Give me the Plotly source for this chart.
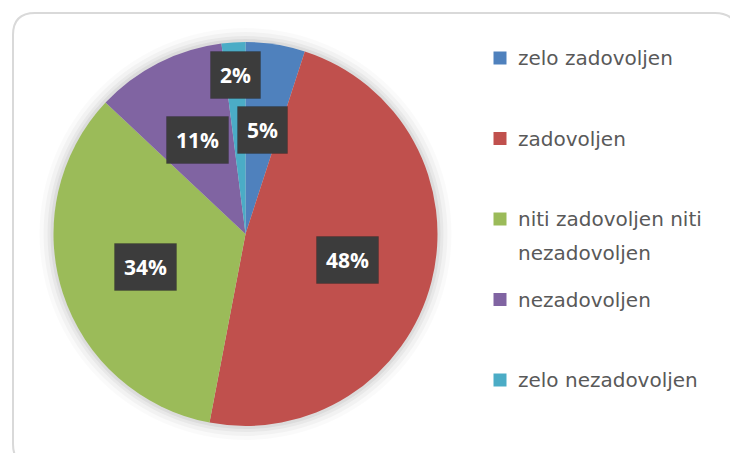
import math
import plotly.graph_objects as go

# ---- data ----
categories = ["zelo zadovoljen", "zadovoljen", "niti zadovoljen niti nezadovoljen",
              "nezadovoljen", "zelo nezadovoljen"]
values = [5, 48, 34, 11, 2]
colors = ["#4F81BD", "#C0504D", "#9BBB59", "#8064A2", "#4BACC6"]

# ---- layout constants (pixels) ----
W, H = 730, 453
CX, CY, R = 245.5, 234.0, 192.0


def px(x):
    return x / W


def py(y):
    return 1 - y / H


fig = go.Figure()
fig.add_trace(go.Pie(
    labels=categories, values=values, sort=False, direction="clockwise",
    rotation=0, marker=dict(colors=colors, line=dict(width=0)),
    textinfo="none", hoverinfo="label+percent", showlegend=False,
    domain=dict(x=[px(CX - R), px(CX + R)], y=[py(CY + R), py(CY - R)]),
))

shapes = []
# frame with rounded corners
x0, y0, x1, y1, cr = 13, 13, 737, 466, 22
path = (f"M {px(x0+cr)} {py(y0)} L {px(x1-cr)} {py(y0)} "
        f"Q {px(x1)} {py(y0)} {px(x1)} {py(y0+cr)} L {px(x1)} {py(y1-cr)} "
        f"Q {px(x1)} {py(y1)} {px(x1-cr)} {py(y1)} L {px(x0+cr)} {py(y1)} "
        f"Q {px(x0)} {py(y1)} {px(x0)} {py(y1-cr)} L {px(x0)} {py(y0+cr)} "
        f"Q {px(x0)} {py(y0)} {px(x0+cr)} {py(y0)} Z")
shapes.append(dict(type="path", xref="paper", yref="paper", path=path,
                   line=dict(color="#D9D9D9", width=2), fillcolor="rgba(0,0,0,0)",
                   layer="below"))
# soft shadow around pie
for dr, op in [(14, 0.02), (10, 0.03), (6, 0.04), (3, 0.05)]:
    shapes.append(dict(type="circle", xref="paper", yref="paper",
                       x0=px(CX - R - dr), x1=px(CX + R + dr),
                       y0=py(CY + R + dr), y1=py(CY - R - dr),
                       line=dict(width=0), fillcolor=f"rgba(0,0,0,{op})",
                       layer="below"))

annotations = []
total = sum(values)
cum = 0
for v in values:
    frac = v / total
    theta = 2 * math.pi * (cum + v / 2) / total
    cum += v
    rf = 0.55 if frac >= 0.04 else 0.83
    lx = CX + rf * R * math.sin(theta)
    ly = CY - rf * R * math.cos(theta)
    txt = f"{round(100 * frac)}%"
    annotations.append(dict(x=px(lx), y=py(ly), xref="paper", yref="paper",
                            xanchor="center", yanchor="middle",
                            text=f"<b>{txt}</b>", showarrow=False,
                            font=dict(family="Open Sans", size=21, color="white"),
                            bgcolor="#3C3C3C", borderpad=9,
                            bordercolor="rgba(0,0,0,0.15)", borderwidth=1))


def wrap(text, width=20):
    lines, cur = [], ""
    for w in text.split():
        if cur and len(cur) + 1 + len(w) > width:
            lines.append(cur)
            cur = w
        else:
            cur = (cur + " " + w).strip()
    lines.append(cur)
    return lines


# manual legend
LX, LTX, LY0, LDY, LLINE, MS = 500, 516, 58, 80.5, 34, 13
for i, (lab, col) in enumerate(zip(categories, colors)):
    yc = LY0 + i * LDY
    shapes.append(dict(type="rect", xref="paper", yref="paper",
                       x0=px(LX - MS / 2), x1=px(LX + MS / 2),
                       y0=py(yc + MS / 2), y1=py(yc - MS / 2),
                       fillcolor=col, line=dict(width=0)))
    for j, line in enumerate(wrap(lab)):
        annotations.append(dict(x=px(LTX), y=py(yc + j * LLINE), xref="paper", yref="paper",
                                text=line, showarrow=False, xanchor="left", yanchor="middle",
                                font=dict(family="DejaVu Sans", size=20, color="#595959")))

fig.update_layout(width=W, height=H, margin=dict(l=0, r=0, t=0, b=0),
                  paper_bgcolor="white", plot_bgcolor="white",
                  shapes=shapes, annotations=annotations)

fig.write_html("out.html", config={"displayModeBar": False},
               post_script="document.body.style.margin='0';document.body.style.padding='0';")
